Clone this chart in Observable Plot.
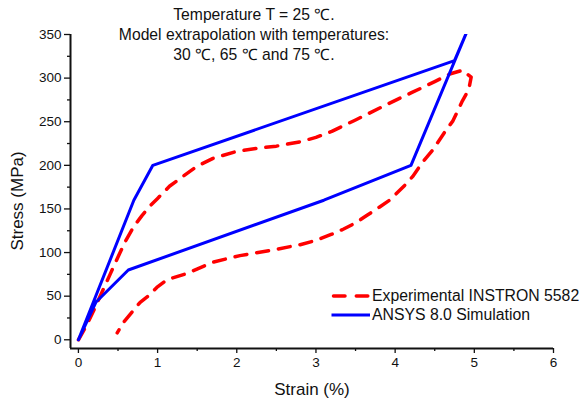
<!DOCTYPE html>
<html><head><meta charset="utf-8">
<script src="https://cdn.jsdelivr.net/npm/d3@7"></script>
<script src="https://cdn.jsdelivr.net/npm/@observablehq/plot@0.6"></script>
<style>
body{margin:0;background:#fff;font-family:"Liberation Sans",Arial,Helvetica,sans-serif;}
#wrap{position:relative;width:580px;height:403px;overflow:hidden;}
#wrap svg.plot{position:absolute;left:0;top:0;}
.title{position:absolute;left:0;top:5px;width:508px;text-align:center;font-size:15.7px;line-height:20px;color:#111;}
.xlab{position:absolute;left:212px;width:200px;top:379px;text-align:center;font-size:17px;line-height:22px;color:#111;}
.ylab{position:absolute;left:-82px;top:190px;width:200px;text-align:center;font-size:17px;line-height:22px;color:#111;transform:rotate(-90deg);}
.legend{position:absolute;left:330px;top:286px;font-size:15.8px;color:#111;}
.legend .row{display:flex;align-items:center;height:19px;}
.legend svg{width:42px;height:19px;flex:none;}
</style></head><body>
<div id="wrap"></div>
<script>
const titleLines = ["Temperature T = 25 \u2103.", "Model extrapolation with temperatures:", "30 \u2103, 65 \u2103 and 75 \u2103."];
const xLabel = "Strain (%)";
const yLabel = "Stress (MPa)";
const seriesNames = ["Experimental INSTRON 5582", "ANSYS 8.0 Simulation"];
const seriesColors = ["#ff0000", "#0000ff"];

// Experimental (INSTRON 5582): loading then unloading
const expStrain = [0, 0.1, 0.2, 0.3, 0.4, 0.5, 0.6, 0.7, 0.8, 0.9, 1.0, 1.15, 1.3, 1.5, 1.7, 2.0, 2.3, 2.5, 2.8, 3.0, 3.2, 3.5, 3.9, 4.2, 4.5, 4.7, 4.85, 4.96,
  4.93, 4.85, 4.73, 4.64, 4.47, 4.35, 4.22, 4.12, 3.93, 3.8, 3.65, 3.5, 3.35, 3.2, 3.0, 2.8, 2.46, 2.04, 1.7, 1.37, 1.12, 0.99, 0.88, 0.78, 0.68, 0.57, 0.49];
const expStress = [0, 16, 35, 55, 75, 95, 114, 130, 142, 153, 162, 176, 186, 199, 208, 216, 220, 222, 227, 232, 239, 252, 270, 283, 296, 305, 309, 301,
  287, 274, 251, 240, 217, 204, 187, 177, 160, 152, 143, 134, 127, 121, 114, 109, 103, 96.5, 89, 76, 69, 60, 50, 43, 32, 20, 8];

// ANSYS 8.0 simulation
const simStrain = [0, 0.7, 0.94, 4.75, 4.97, 4.2, 3.1, 0.63, 0.22, 0];
const simStress = [0, 160, 200, 320, 367, 200, 160, 80, 43, 0];

const xTicks = [0, 1, 2, 3, 4, 5, 6];
const xMinorTicks = [0.5, 1.5, 2.5, 3.5, 4.5, 5.5];
const yTicks = [0, 50, 100, 150, 200, 250, 300, 350];
const yMinorTicks = [25, 75, 125, 175, 225, 275, 325];
const xDomain = [-0.1, 6];
const yDomain = [-10, 350];

const exp = expStrain.map((x, i) => ({x, y: expStress[i]}));
const sim = simStrain.map((x, i) => ({x, y: simStress[i]}));

const chart = Plot.plot({
  width: 580, height: 403,
  marginLeft: 70, marginRight: 27, marginTop: 34, marginBottom: 55,
  style: {fontFamily: '"Liberation Sans", Arial, sans-serif', background: "#fff", color: "#111"},
  x: {domain: xDomain},
  y: {domain: yDomain},
  marks: [
    Plot.line(exp, {x: "x", y: "y", stroke: seriesColors[0], strokeWidth: 3.5, strokeDasharray: "12,10", strokeLinecap: "round", strokeLinejoin: "round", clip: true}),
    Plot.line(sim, {x: "x", y: "y", stroke: seriesColors[1], strokeWidth: 3, strokeLinejoin: "round", clip: true}),
    Plot.axisX({ticks: xTicks, tickSize: 5, tickPadding: 4, fontSize: 13.5, label: null, tickFormat: d => String(d), strokeWidth: 1.3}),
    Plot.axisX({ticks: xMinorTicks, tickSize: 3, label: null, tickFormat: () => "", strokeWidth: 1.3}),
    Plot.axisY({ticks: yTicks, tickSize: 6, tickPadding: 3, fontSize: 13.5, label: null, tickFormat: d => String(d), strokeWidth: 1.3}),
    Plot.axisY({ticks: yMinorTicks, tickSize: 3, label: null, tickFormat: () => "", strokeWidth: 1.3}),
    Plot.ruleX([xDomain[0]], {stroke: "#111", strokeWidth: 2}),
    Plot.ruleY([yDomain[0]], {stroke: "#111", strokeWidth: 2})
  ]
});
chart.classList.add("plot");
const wrap = document.getElementById("wrap");
wrap.appendChild(chart);

const t = document.createElement("div");
t.className = "title";
t.innerHTML = titleLines.join("<br>");
wrap.appendChild(t);

const xl = document.createElement("div"); xl.className = "xlab"; xl.textContent = xLabel; wrap.appendChild(xl);
const yl = document.createElement("div"); yl.className = "ylab"; yl.textContent = yLabel; wrap.appendChild(yl);

const lg = document.createElement("div"); lg.className = "legend";
seriesNames.forEach((name, i) => {
  const row = document.createElement("div"); row.className = "row";
  const dash = i === 0 ? 'stroke-dasharray="11.5,11.3" stroke-linecap="round" stroke-width="3.5"' : 'stroke-width="3"';
  row.innerHTML = `<svg viewBox="0 0 42 19"><line x1="${i===0?3.5:1.5}" x2="${i===0?38.2:40}" y1="10" y2="10" stroke="${seriesColors[i]}" ${dash}/></svg><span>${name}</span>`;
  lg.appendChild(row);
});
wrap.appendChild(lg);
</script>
</body></html>
